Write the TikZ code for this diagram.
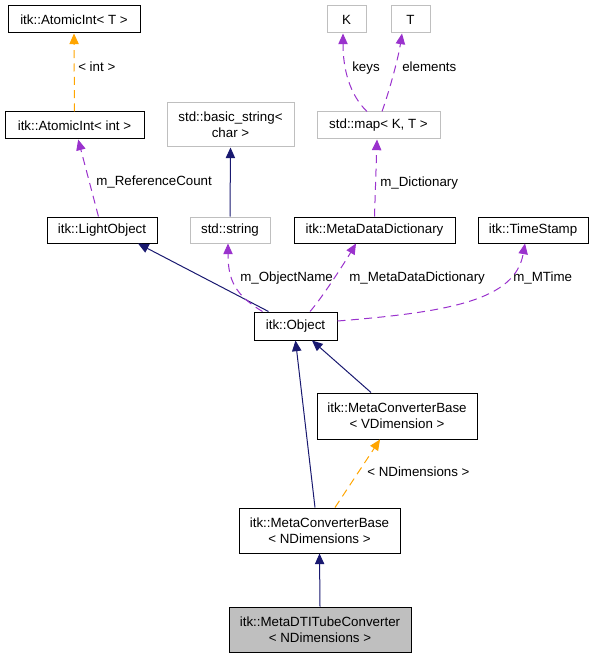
\documentclass[tikz,border=0pt]{standalone}
\usepackage{fontspec}
\setmainfont{Liberation Sans}
\usetikzlibrary{arrows.meta,calc}
\definecolor{inhcol}{HTML}{191970}
\definecolor{usecol}{HTML}{9A32CD}
\definecolor{tplcol}{HTML}{FFA500}
\definecolor{extcol}{HTML}{BFBFBF}
\begin{document}
\begin{tikzpicture}[x=0.75pt, y=-0.75pt,
        font=\fontsize{10}{12}\selectfont,
        box/.style={draw=black, line width=0.75pt, inner sep=0pt, align=center},
        extbox/.style={box, draw=extcol},
        lbl/.style={anchor=west, inner sep=0pt, text height=7.5pt, text depth=0.5pt},
        inherit/.style={draw=inhcol, line width=0.75pt, -{Triangle[length=8pt,width=7pt]}},
        member/.style={draw=usecol, line width=0.75pt, dash pattern=on 6pt off 4pt, -{Triangle[length=8pt,width=7pt]}},
        templ/.style={member, draw=tplcol}]
    \useasboundingbox (0,0) rectangle (593,659);

    % classes
    \node[box, minimum width=99pt, minimum height=20.25pt] (atomict) at (74,19.5) {itk::AtomicInt< T >};
    \node[box, minimum width=104.25pt, minimum height=20.25pt] (atomicint) at (74.5,125.5) {itk::AtomicInt< int >};
    \node[box, minimum width=82.5pt, minimum height=19.5pt] (light) at (102,230) {itk::LightObject};
    \node[extbox, minimum width=95.25pt, minimum height=33pt] (bstring) at (230.5,125) {std::basic\_string<\\char >};
    \node[extbox, minimum width=60pt, minimum height=19.5pt] (string) at (230,230) {std::string};
    \node[extbox, minimum width=29.25pt, minimum height=20.25pt] (keyk) at (346.5,19.5) {K};
    \node[extbox, minimum width=29.25pt, minimum height=20.25pt] (elemt) at (410.5,19.5) {T};
    \node[extbox, minimum width=92.25pt, minimum height=20.25pt] (map) at (378.5,125.5) {std::map< K, T >};
    \node[box, minimum width=120.75pt, minimum height=19.5pt] (mdd) at (374.5,230) {itk::MetaDataDictionary};
    \node[box, minimum width=82.5pt, minimum height=19.5pt] (ts) at (533,230) {itk::TimeStamp};
    \node[box, minimum width=62.25pt, minimum height=21pt] (obj) at (295.5,326) {itk::Object};
    \node[box, minimum width=120pt, minimum height=34.5pt] (mcbv) at (397,416) {itk::MetaConverterBase\\< VDimension >};
    \node[box, minimum width=120.75pt, minimum height=33.75pt] (mcbn) at (319.5,530.5) {itk::MetaConverterBase\\< NDimensions >};
    \node[box, fill=extcol, minimum width=136.5pt, minimum height=33.75pt] (dti) at (320,629.5) {itk::MetaDTITubeConverter\\< NDimensions >};

    % edge labels
    \foreach \x/\y/\txt/\name in {
        78/67/{< int >}/lint, 96/181/{m\_ReferenceCount}/lref,
        240/277/{m\_ObjectName}/lname, 349/277/{m\_MetaDataDictionary}/lmdd,
        513/277/{m\_MTime}/lmtime, 352/67/{keys}/lkeys, 402/67/{elements}/lelem,
        380/182/{m\_Dictionary}/ldict, 367/472/{< NDimensions >}/lndim
    } {
        \node[lbl] (\name) at (\x,\y) {\txt};
    }

    % connectors
    \draw[templ] (atomicint.north) -- (atomict.south);
    \draw[member] (light) -- (atomicint);
    \draw[inherit] (string.north) -- (bstring.south);
    \draw[inherit] ($(obj.north)+(-27,0)$) -- ($(light.south)+(36,0)$);
    \draw[member] ($(obj.north)+(-33,0)$) .. controls (235,295) and (228,280) .. ($(string.south)+(-2,0)$);
    \draw[member] ($(obj.north)+(14.5,0)$) .. controls (322,298) and (345,262) .. ($(mdd.south)+(-18.5,0)$);
    \draw[member] ($(obj.east)+(0,-5)$) .. controls (450,312) and (515,300) .. ($(ts.south)+(-8,0)$);
    \draw[member] ($(map.north)+(-11.5,0)$) .. controls (350,95) and (343,70) .. ($(keyk.south)+(-3.5,0)$);
    \draw[member] ($(map.north)+(3.5,0)$) .. controls (388,95) and (398,60) .. ($(elemt.south)+(-8.5,0)$);
    \draw[member] (mdd.north) -- ($(map.south)+(-1.5,0)$);
    \draw[inherit] ($(mcbv.north)+(-26,0)$) -- ($(obj.south)+(16.5,0)$);
    \draw[inherit] ($(mcbn.north)+(-4.5,0)$) -- (obj.south);
    \draw[templ] ($(mcbn.north)+(15.5,0)$) -- ($(mcbv.south)+(-17,0)$);
    \draw[inherit] (dti.north) -- (mcbn.south);
\end{tikzpicture}
\end{document}
